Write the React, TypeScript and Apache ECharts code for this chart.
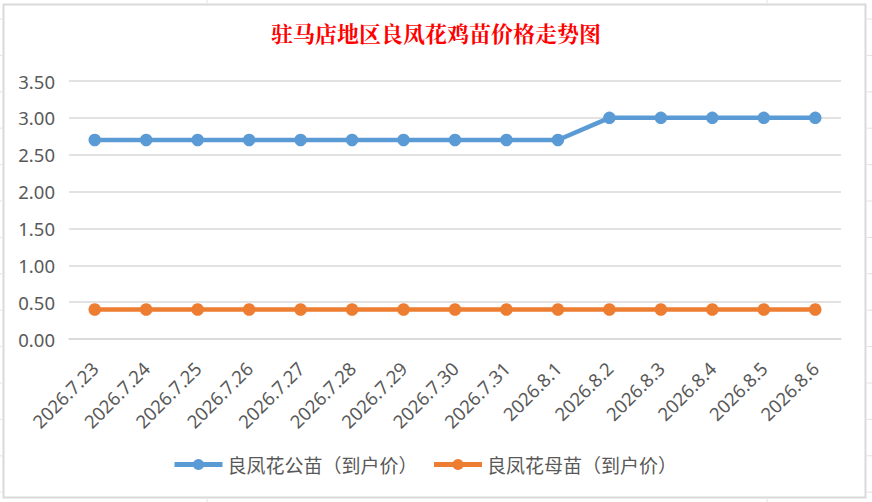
import React, { useEffect, useRef } from "react";
import * as echarts from "echarts";

const categories = [
  "2026.7.23", "2026.7.24", "2026.7.25", "2026.7.26", "2026.7.27",
  "2026.7.28", "2026.7.29", "2026.7.30", "2026.7.31", "2026.8.1",
  "2026.8.2", "2026.8.3", "2026.8.4", "2026.8.5", "2026.8.6",
];
const maleChickPrice = [2.7, 2.7, 2.7, 2.7, 2.7, 2.7, 2.7, 2.7, 2.7, 2.7, 3.0, 3.0, 3.0, 3.0, 3.0];
const femaleChickPrice = [0.4, 0.4, 0.4, 0.4, 0.4, 0.4, 0.4, 0.4, 0.4, 0.4, 0.4, 0.4, 0.4, 0.4, 0.4];
const seriesNames = ["良凤花公苗（到户价）", "良凤花母苗（到户价）"];
const titleText = "驻马店地区良凤花鸡苗价格走势图";

const W = 872;
const H = 502;

export default function App() {
  const ref = useRef<HTMLDivElement>(null);
  useEffect(() => {
    if (!ref.current) return;
    const chart = echarts.init(ref.current, undefined, { renderer: "svg", width: W, height: H });

    const deco: any[] = [];
    // faint spreadsheet cell lines outside chart frame
    for (let k = 0; k < 14; k++) {
      const y = 19 + k * 36.4;
      deco.push({ type: "line", silent: true, shape: { x1: 0, y1: y, x2: 2, y2: y }, style: { stroke: "#e2e2e2", lineWidth: 1 } });
      deco.push({ type: "line", silent: true, shape: { x1: 867, y1: y, x2: 872, y2: y }, style: { stroke: "#e2e2e2", lineWidth: 1 } });
    }
    [207, 767].forEach((x) => {
      deco.push({ type: "line", silent: true, shape: { x1: x, y1: 0, x2: x, y2: 3 }, style: { stroke: "#e2e2e2", lineWidth: 1 } });
      deco.push({ type: "line", silent: true, shape: { x1: x, y1: 499, x2: x, y2: 502 }, style: { stroke: "#e2e2e2", lineWidth: 1 } });
    });
    deco.push({
      type: "rect",
      silent: true,
      shape: { x: 3.5, y: 4.5, width: 862, height: 493 },
      style: { fill: "none", stroke: "#d9d9d9", lineWidth: 2 },
    });

    const labelFont = "'Noto Sans', 'Noto Sans CJK SC', sans-serif";

    chart.setOption({
      animation: false,
      backgroundColor: "#ffffff",
      graphic: deco,
      title: {
        text: titleText,
        left: "center",
        top: 21,
        padding: 0,
        textStyle: {
          color: "#ff0000",
          fontSize: 22,
          fontWeight: "bold",
          fontFamily: "'Noto Serif CJK SC', 'Noto Sans CJK SC', serif",
        },
      },
      legend: {
        left: 172,
        top: 455,
        padding: 0,
        itemWidth: 48,
        itemHeight: 14,
        itemGap: 14,
        lineStyle: { width: 5 },
        textStyle: { color: "#595959", fontSize: 19, fontFamily: "'Noto Sans CJK SC', sans-serif", padding: [0, 0, 0, 0] },
        data: seriesNames,
      },
      grid: { left: 69, right: 31, top: 81, bottom: 163, containLabel: false },
      xAxis: {
        type: "category",
        data: categories,
        boundaryGap: true,
        axisLine: { show: true, lineStyle: { color: "#d9d9d9", width: 1.5 } },
        axisTick: { show: false },
        axisLabel: {
          interval: 0,
          rotate: 45,
          margin: 26,
          color: "#595959",
          fontSize: 18.5,
          fontFamily: labelFont,
        },
      },
      yAxis: {
        type: "value",
        min: 0,
        max: 3.5,
        interval: 0.5,
        axisLine: { show: false },
        axisTick: { show: false },
        splitLine: { lineStyle: { color: "#d9d9d9", width: 1.5 } },
        axisLabel: {
          margin: 14,
          color: "#595959",
          fontSize: 18.5,
          fontFamily: labelFont,
          formatter: (v: number) => v.toFixed(2),
        },
      },
      series: [
        {
          name: seriesNames[0],
          type: "line",
          data: maleChickPrice,
          symbol: "circle",
          symbolSize: 12.5,
          lineStyle: { color: "#5b9bd5", width: 4.5 },
          itemStyle: { color: "#5b9bd5" },
        },
        {
          name: seriesNames[1],
          type: "line",
          data: femaleChickPrice,
          symbol: "circle",
          symbolSize: 12.5,
          lineStyle: { color: "#ed7d31", width: 4.5 },
          itemStyle: { color: "#ed7d31" },
        },
      ],
    });
    return () => chart.dispose();
  }, []);

  return (
    <div
      ref={ref}
      style={{ position: "fixed", left: 0, top: 0, width: W, height: H, background: "#fff" }}
    />
  );
}
